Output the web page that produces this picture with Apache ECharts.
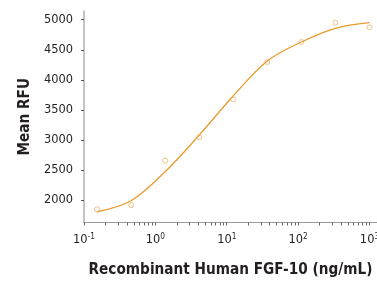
<!DOCTYPE html>
<html>
<head>
<meta charset="utf-8">
<script src="https://cdn.jsdelivr.net/npm/echarts@6/dist/echarts.min.js"></script>
<style>
  html, body { margin: 0; padding: 0; background: #fff; }
  #chart { width: 377px; height: 287px; }
</style>
</head>
<body>
<div id="chart"></div>
<script>
// concentrations (ng/mL), 3-fold dilutions
const conc = [0.152, 0.457, 1.37, 4.12, 12.3, 37, 111, 333, 1000];
// measured mean RFU (open circles)
const measured = [1845, 1916, 2654, 3043, 3675, 4296, 4630, 4950, 4874];
// fitted curve at the same concentrations
const fitted = [1805, 1988, 2471, 3081, 3730, 4313, 4629, 4857, 4950];

const yTicks = [2000, 2500, 3000, 3500, 4000, 4500, 5000];
const xLabels = [0.1, 1, 10, 100, 1000];
const xTicks = [];
[0.1, 1, 10, 100].forEach(d => { for (let k = 1; k < 10; k++) xTicks.push(+(d * k).toPrecision(3)); });
xTicks.push(1000);

const xTitle = 'Recombinant Human FGF-10 (ng/mL)';
const yTitle = 'Mean RFU';

// pick a condensed face if one is installed
const ctx = document.createElement('canvas').getContext('2d');
function has(name) {
  ctx.font = '40px monospace';
  const a = ctx.measureText('Recombinant 5000').width;
  ctx.font = '40px "' + name + '", monospace';
  return ctx.measureText('Recombinant 5000').width !== a;
}
const face = ['Liberation Sans Narrow', 'DejaVu Sans Condensed', 'Roboto Condensed', 'Liberation Sans'].find(has) || 'sans-serif';
const FONT = '"' + face + '", sans-serif';
// size so that a text gets the width it has in the picture
function fit(text, weight, width) {
  ctx.font = weight + ' 100px ' + FONT;
  return Math.round(100 * width / ctx.measureText(text).width * 10) / 10;
}
const titleSize = Math.min(fit(xTitle, 'bold', 285), 19);
const tickSize = Math.min(fit('5000', 'normal', 29), 15);

const chart = echarts.init(document.getElementById('chart'), null, { renderer: 'canvas' });

chart.setOption({
  animation: false,
  grid: { left: 84, right: 0, top: 11, bottom: 64.5, outerBoundsMode: 'none', containLabel: false },
  xAxis: {
    type: 'log',
    logBase: 10,
    min: 0.1,
    max: 1274,
    name: xTitle,
    nameLocation: 'middle',
    nameGap: 40,
    nameTextStyle: { fontFamily: FONT, fontWeight: 'bold', fontSize: titleSize, color: '#231f20' },
    axisLine: { lineStyle: { color: '#9a9a9a', width: 1 } },
    axisTick: { show: true, length: 3, customValues: xTicks, lineStyle: { color: '#666' } },
    splitLine: { show: false },
    axisLabel: {
      customValues: xLabels,
      margin: 10,
      formatter: v => '{b|10}{s|' + Math.round(Math.log10(v)) + '}',
      rich: {
        b: { fontFamily: FONT, fontSize: tickSize, color: '#231f20' },
        s: { fontFamily: FONT, fontSize: tickSize * 0.65, color: '#231f20', verticalAlign: 'top', padding: [0, 0, 6, 0] }
      }
    }
  },
  yAxis: {
    type: 'value',
    min: 1626,
    max: 5145,
    name: yTitle,
    nameLocation: 'middle',
    nameGap: 51,
    nameTextStyle: { fontFamily: FONT, fontWeight: 'bold', fontSize: titleSize, color: '#231f20' },
    axisLine: { show: true, lineStyle: { color: '#b0b0b0', width: 1.5 } },
    axisTick: { show: true, length: 3, customValues: yTicks, lineStyle: { color: '#555' } },
    splitLine: { show: false },
    axisLabel: {
      customValues: yTicks,
      margin: 11,
      formatter: v => String(v),
      fontFamily: FONT,
      fontSize: tickSize,
      color: '#231f20'
    }
  },
  series: [
    {
      type: 'line',
      data: conc.map((c, i) => [c, fitted[i]]),
      smooth: 0.35,
      showSymbol: false,
      lineStyle: { color: '#eb9a2c', width: 1.3 },
      z: 2
    },
    {
      type: 'scatter',
      data: conc.map((c, i) => [c, measured[i]]),
      symbol: 'circle',
      symbolSize: 5,
      itemStyle: { color: 'rgba(255,255,255,0)', borderColor: '#e9b466', borderWidth: 1 },
      z: 3
    }
  ]
});
</script>
</body>
</html>
